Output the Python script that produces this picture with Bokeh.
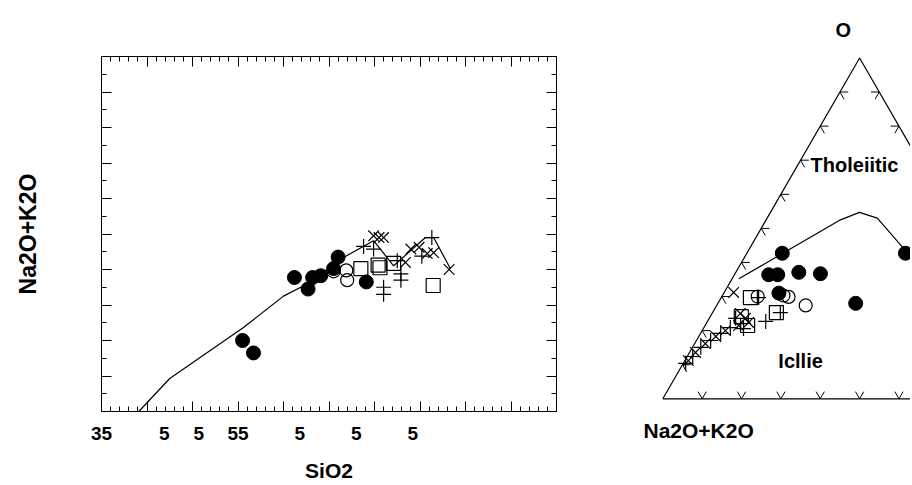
import numpy as np
from bokeh.plotting import figure
from bokeh.models import Range1d, LinearAxis, FixedTicker, Label, Title, CustomLabelingPolicy
from bokeh.layouts import row
from bokeh.embed import file_html
from bokeh.resources import INLINE

FONT = "Liberation Sans"

# ---------------- left panel data (SiO2 vs Na2O+K2O) ----------------
x_major = [35, 40, 45, 50, 55, 60, 65, 70, 75, 80, 85]
x_minor = [v for v in range(35, 86) if v % 5 != 0]
y_major = [0, 2, 4, 6, 8, 10, 12, 14, 16, 18, 20]
y_minor = [1, 3, 5, 7, 9, 11, 13, 15, 17, 19]
x_label_pos = [35, 41.9, 45.7, 50, 56.8, 63, 69.2]
x_label_txt = ["35", "5", "5", "55", "5", "5", "5"]

filled_x = [50.5, 51.7, 56.2, 57.7, 58.2, 59.1, 60.5, 61.0, 64.1]
filled_y = [4.0, 3.3, 7.55, 6.9, 7.55, 7.65, 8.05, 8.7, 7.3]
open_x = [60.5, 61.9, 62.0]
open_y = [7.9, 7.95, 7.4]
square_x = [63.5, 65.4, 65.6, 67.1, 71.45]
square_y = [8.05, 8.25, 8.1, 8.35, 7.1]
plus_x = [63.8, 64.9, 66.0, 66.0, 67.5, 67.9, 67.9, 71.3, 70.2]
plus_y = [9.3, 9.15, 7.0, 6.6, 8.5, 7.75, 7.4, 9.8, 8.75]
cross_x = [64.9, 65.5, 66.0, 69.0, 69.9, 70.8, 71.5, 68.4, 73.2]
cross_y = [9.9, 9.8, 9.8, 9.15, 9.25, 8.9, 8.95, 8.4, 8.0]
divide_x = [39.1, 42.5, 50.6, 55.0, 57.6, 61.6, 64.9, 67.1, 70.6, 71.5, 73.35]
divide_y = [0, 1.86, 4.73, 6.5, 7.18, 8.68, 9.62, 8.21, 9.8, 9.8, 8.04]

# ---------------- right panel data (ternary, % of apex oxide F and MgO M) ----------------
tern_filled_F = [42.7, 36.4, 36.4, 37.1, 36.7, 31.0, 28.0, 42.7]
tern_filled_M = [9.0, 8.7, 11.0, 16.0, 21.7, 14.0, 35.0, 40.3]
tern_open_F = [30.0, 30.3, 29.9, 27.4]
tern_open_M = [9.1, 15.5, 17.0, 22.6]
tern_square_F = [29.7, 21.5, 25.3, 24.1]
tern_square_M = [7.4, 10.8, 16.2, 7.9]
tern_plus_F = [29.7, 22.7, 25.3, 23.6, 20.6, 20.9, 19.2, 17.1, 15.1, 12.4, 10.4]
tern_plus_M = [9.5, 14.8, 17.2, 6.7, 10.2, 6.7, 5.1, 3.6, 2.1, 1.4, 0.6]
tern_cross_F = [31.2, 25.0, 23.6, 22.4, 21.5, 20.0, 18.3, 16.2, 13.6, 11.2]
tern_cross_M = [2.4, 7.2, 9.2, 10.6, 8.5, 5.9, 4.3, 2.7, 1.5, 0.9]
boundary_F = [35.2, 52.5, 54.7, 53.0, 43.5, 31.8]
boundary_M = [1.7, 18.9, 22.6, 28.0, 39.9, 54.7]
tern_ticks = [10, 20, 30, 40, 50, 60, 70, 80, 90]
field_labels = ["Tholeiitic", "Icllie"]
field_label_u = [0.487, 0.350]
field_label_v = [0.595, 0.097]
apex_label = "O"
corner_label = "Na2O+K2O"


def tern(F, M):
    F = np.asarray(F, dtype=float) / 100.0
    M = np.asarray(M, dtype=float) / 100.0
    return M + F / 2.0, F * np.sqrt(3) / 2.0


NO_LABELS = CustomLabelingPolicy(code="""
if (typeof indices === "number") { return false }
try {
  if (typeof indices.clear === "function") { indices.clear() }
  else { for (const i of Array.from(indices)) { indices.unset(i) } }
} catch (e) {}
return indices
""")

H = 484
TOP = 56
BOTTOM = H - TOP - 355

# ================= left figure =================
p1 = figure(width=598, height=H, x_range=Range1d(35, 85), y_range=Range1d(0, 20),
            output_backend="svg", toolbar_location=None,
            min_border_left=101, min_border_right=42, min_border_top=TOP, min_border_bottom=BOTTOM)
p1.grid.visible = False
p1.outline_line_color = "black"
p1.background_fill_color = "white"
p1.border_fill_color = "white"


def tick_axis(ax, ticks, minors):
    ax.ticker = FixedTicker(ticks=ticks, minor_ticks=minors)
    ax.major_tick_in = 10
    ax.major_tick_out = 0
    ax.minor_tick_in = 5
    ax.minor_tick_out = 0
    ax.major_label_text_font_size = "0px"
    ax.major_label_standoff = 0
    ax.major_label_policy = NO_LABELS
    ax.axis_line_color = "black"
    ax.major_tick_line_color = "black"
    ax.minor_tick_line_color = "black"


tick_axis(p1.xaxis[0], x_major, x_minor)
tick_axis(p1.yaxis[0], y_major, y_minor)
top_ax = LinearAxis()
tick_axis(top_ax, x_major, x_minor)
p1.add_layout(top_ax, "above")
right_ax = LinearAxis()
tick_axis(right_ax, y_major, y_minor)
p1.add_layout(right_ax, "right")

lab_ax = LinearAxis(ticker=FixedTicker(ticks=x_label_pos),
                    major_label_overrides={k: t for k, t in zip(x_label_pos, x_label_txt)})
lab_ax.axis_line_color = None
lab_ax.major_tick_line_color = None
lab_ax.minor_tick_line_color = None
lab_ax.major_label_text_font = FONT
lab_ax.major_label_text_font_style = "bold"
lab_ax.major_label_text_font_size = "19px"
lab_ax.major_label_text_color = "black"
lab_ax.major_label_standoff = 9
lab_ax.axis_label = "SiO2"
lab_ax.axis_label_text_font = FONT
lab_ax.axis_label_text_font_style = "bold"
lab_ax.axis_label_text_font_size = "21px"
lab_ax.axis_label_text_color = "black"
lab_ax.axis_label_standoff = 16
p1.add_layout(lab_ax, "below")

ya = p1.yaxis[0]
ya.axis_label = "Na2O+K2O"
ya.axis_label_text_font = FONT
ya.axis_label_text_font_style = "bold"
ya.axis_label_text_font_size = "23px"
ya.axis_label_text_color = "black"
ya.axis_label_standoff = 61

p1.line(divide_x, divide_y, line_color="black", line_width=1.2)
p1.scatter(filled_x, filled_y, marker="circle", size=14, fill_color="black", line_color="black")
p1.scatter(open_x, open_y, marker="circle", size=13, fill_color=None, line_color="black", line_width=1.2)
p1.scatter(square_x, square_y, marker="square", size=14, fill_color=None, line_color="black", line_width=1.2)
p1.scatter(plus_x, plus_y, marker="cross", size=15, line_color="black", line_width=1.2)
p1.scatter(cross_x, cross_y, marker="x", size=15, line_color="black", line_width=1.2)

# ================= right figure (ternary) =================
# frame spans page x 598..910, y 56..411; triangle base-left at (662.3, 398.3), side 393.6 px
p2 = figure(width=312, height=H, x_range=Range1d(-0.1634, 0.6293), y_range=Range1d(-0.0323, 0.8697),
            output_backend="svg", toolbar_location=None,
            x_axis_location=None, y_axis_location=None,
            min_border_left=0, min_border_right=0, min_border_top=TOP, min_border_bottom=BOTTOM)
p2.grid.visible = False
p2.outline_line_color = None
p2.background_fill_color = "white"
p2.border_fill_color = "white"

p2.add_layout(Title(text=apex_label, align="left", offset=237, standoff=31,
                    text_font=FONT, text_font_style="bold", text_font_size="20px",
                    text_color="black"), "above")
p2.add_layout(Title(text=corner_label, align="left", offset=45, standoff=10,
                    text_font=FONT, text_font_style="bold", text_font_size="21px",
                    text_color="black"), "below")

cx, cy = tern([0, 100, 0, 0], [0, 0, 100, 0])
p2.line(cx, cy, line_color="black", line_width=1.2)

L = 0.021
s3 = np.sqrt(3) / 2
txs, tys = [], []
for k in tern_ticks:
    bx, by = tern([0], [k])
    txs.append([bx[0] - 0.5 * L, bx[0], bx[0] + 0.5 * L]); tys.append([by[0] + s3 * L, by[0], by[0] + s3 * L])
    lx, ly = tern([k], [0])
    txs.append([lx[0] + L, lx[0], lx[0] + 0.5 * L]); tys.append([ly[0], ly[0], ly[0] - s3 * L])
    rx, ry = tern([k], [100 - k])
    txs.append([rx[0] - L, rx[0], rx[0] - 0.5 * L]); tys.append([ry[0], ry[0], ry[0] - s3 * L])
p2.multi_line(txs, tys, line_color="black", line_width=1)

bx, by = tern(boundary_F, boundary_M)
p2.line(bx, by, line_color="black", line_width=1.2)

fx, fy = tern(tern_filled_F, tern_filled_M)
p2.scatter(fx, fy, marker="circle", size=14, fill_color="black", line_color="black")
ox, oy = tern(tern_open_F, tern_open_M)
p2.scatter(ox, oy, marker="circle", size=13, fill_color=None, line_color="black", line_width=1.2)
sx, sy = tern(tern_square_F, tern_square_M)
p2.scatter(sx, sy, marker="square", size=14, fill_color=None, line_color="black", line_width=1.2)
px_, py_ = tern(tern_plus_F, tern_plus_M)
p2.scatter(px_, py_, marker="cross", size=15, line_color="black", line_width=1.2)
xx, xy = tern(tern_cross_F, tern_cross_M)
p2.scatter(xx, xy, marker="x", size=15, line_color="black", line_width=1.2)

for t, u, v in zip(field_labels, field_label_u, field_label_v):
    p2.add_layout(Label(x=u, y=v, text=t, text_font=FONT, text_font_style="bold",
                        text_font_size="20px", text_align="center", text_baseline="middle",
                        text_color="black"))

layout = row(p1, p2)
open("out.html", "w").write(file_html(layout, INLINE))
